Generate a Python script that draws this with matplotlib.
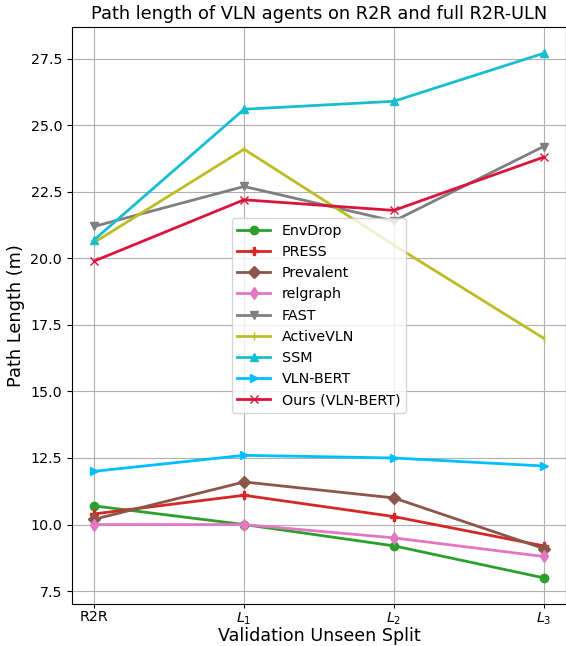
import numpy as np
import matplotlib.pyplot as plt

splits = ["R2R", "$L_1$", "$L_2$", "$L_3$"]

envdrop = [10.7, 10.0, 9.2, 8.0]
press = [10.4, 11.1, 10.3, 9.2]
prevalent = [10.2, 11.6, 11.0, 9.1]
relgraph = [10.0, 10.0, 9.5, 8.8]
fast = [21.2, 22.7, 21.4, 24.2]
activevln = [20.6, 24.1, 20.5, 17.0]
ssm = [20.7, 25.6, 25.9, 27.7]
vlnbert = [12.0, 12.6, 12.5, 12.2]
ours = [19.9, 22.2, 21.8, 23.8]

x = np.arange(len(splits))

fig, ax = plt.subplots(figsize=(5.66, 6.46), dpi=100)
ax.plot(x, envdrop, marker="o", color="tab:green", lw=2, label="EnvDrop")
ax.plot(x, press, marker="P", color="tab:red", lw=2, label="PRESS")
ax.plot(x, prevalent, marker="D", color="tab:brown", lw=2, label="Prevalent")
ax.plot(x, relgraph, marker="d", color="tab:pink", lw=2, label="relgraph")
ax.plot(x, fast, marker="v", color="tab:gray", lw=2, label="FAST")
ax.plot(x, activevln, marker="|", color="tab:olive", lw=2, label="ActiveVLN")
ax.plot(x, ssm, marker="^", color="tab:cyan", lw=2, label="SSM")
ax.plot(x, vlnbert, marker=">", color="deepskyblue", lw=2, label="VLN-BERT")
ax.plot(x, ours, marker="x", color="crimson", lw=2, label="Ours (VLN-BERT)")

ax.set_xticks(x)
ax.set_xticklabels(splits, fontsize=10.3)
ax.tick_params(axis="y", labelsize=10.3)
ax.tick_params(axis="x", pad=1.5, length=3)
ax.set_yticks([7.5, 10.0, 12.5, 15.0, 17.5, 20.0, 22.5, 25.0, 27.5])
ax.grid(True, color="#b0b0b0", lw=0.8)
ax.set_xlabel("Validation Unseen Split", fontsize=12.6, labelpad=0)
ax.set_ylabel("Path Length (m)", fontsize=12.8)
ax.set_title("Path length of VLN agents on R2R and full R2R-ULN", fontsize=12.8)
ax.legend(loc="center", fontsize=10.3, handlelength=2.3)

fig.subplots_adjust(left=0.127, right=1.0, top=0.958, bottom=0.065)
fig.savefig("out.png")
